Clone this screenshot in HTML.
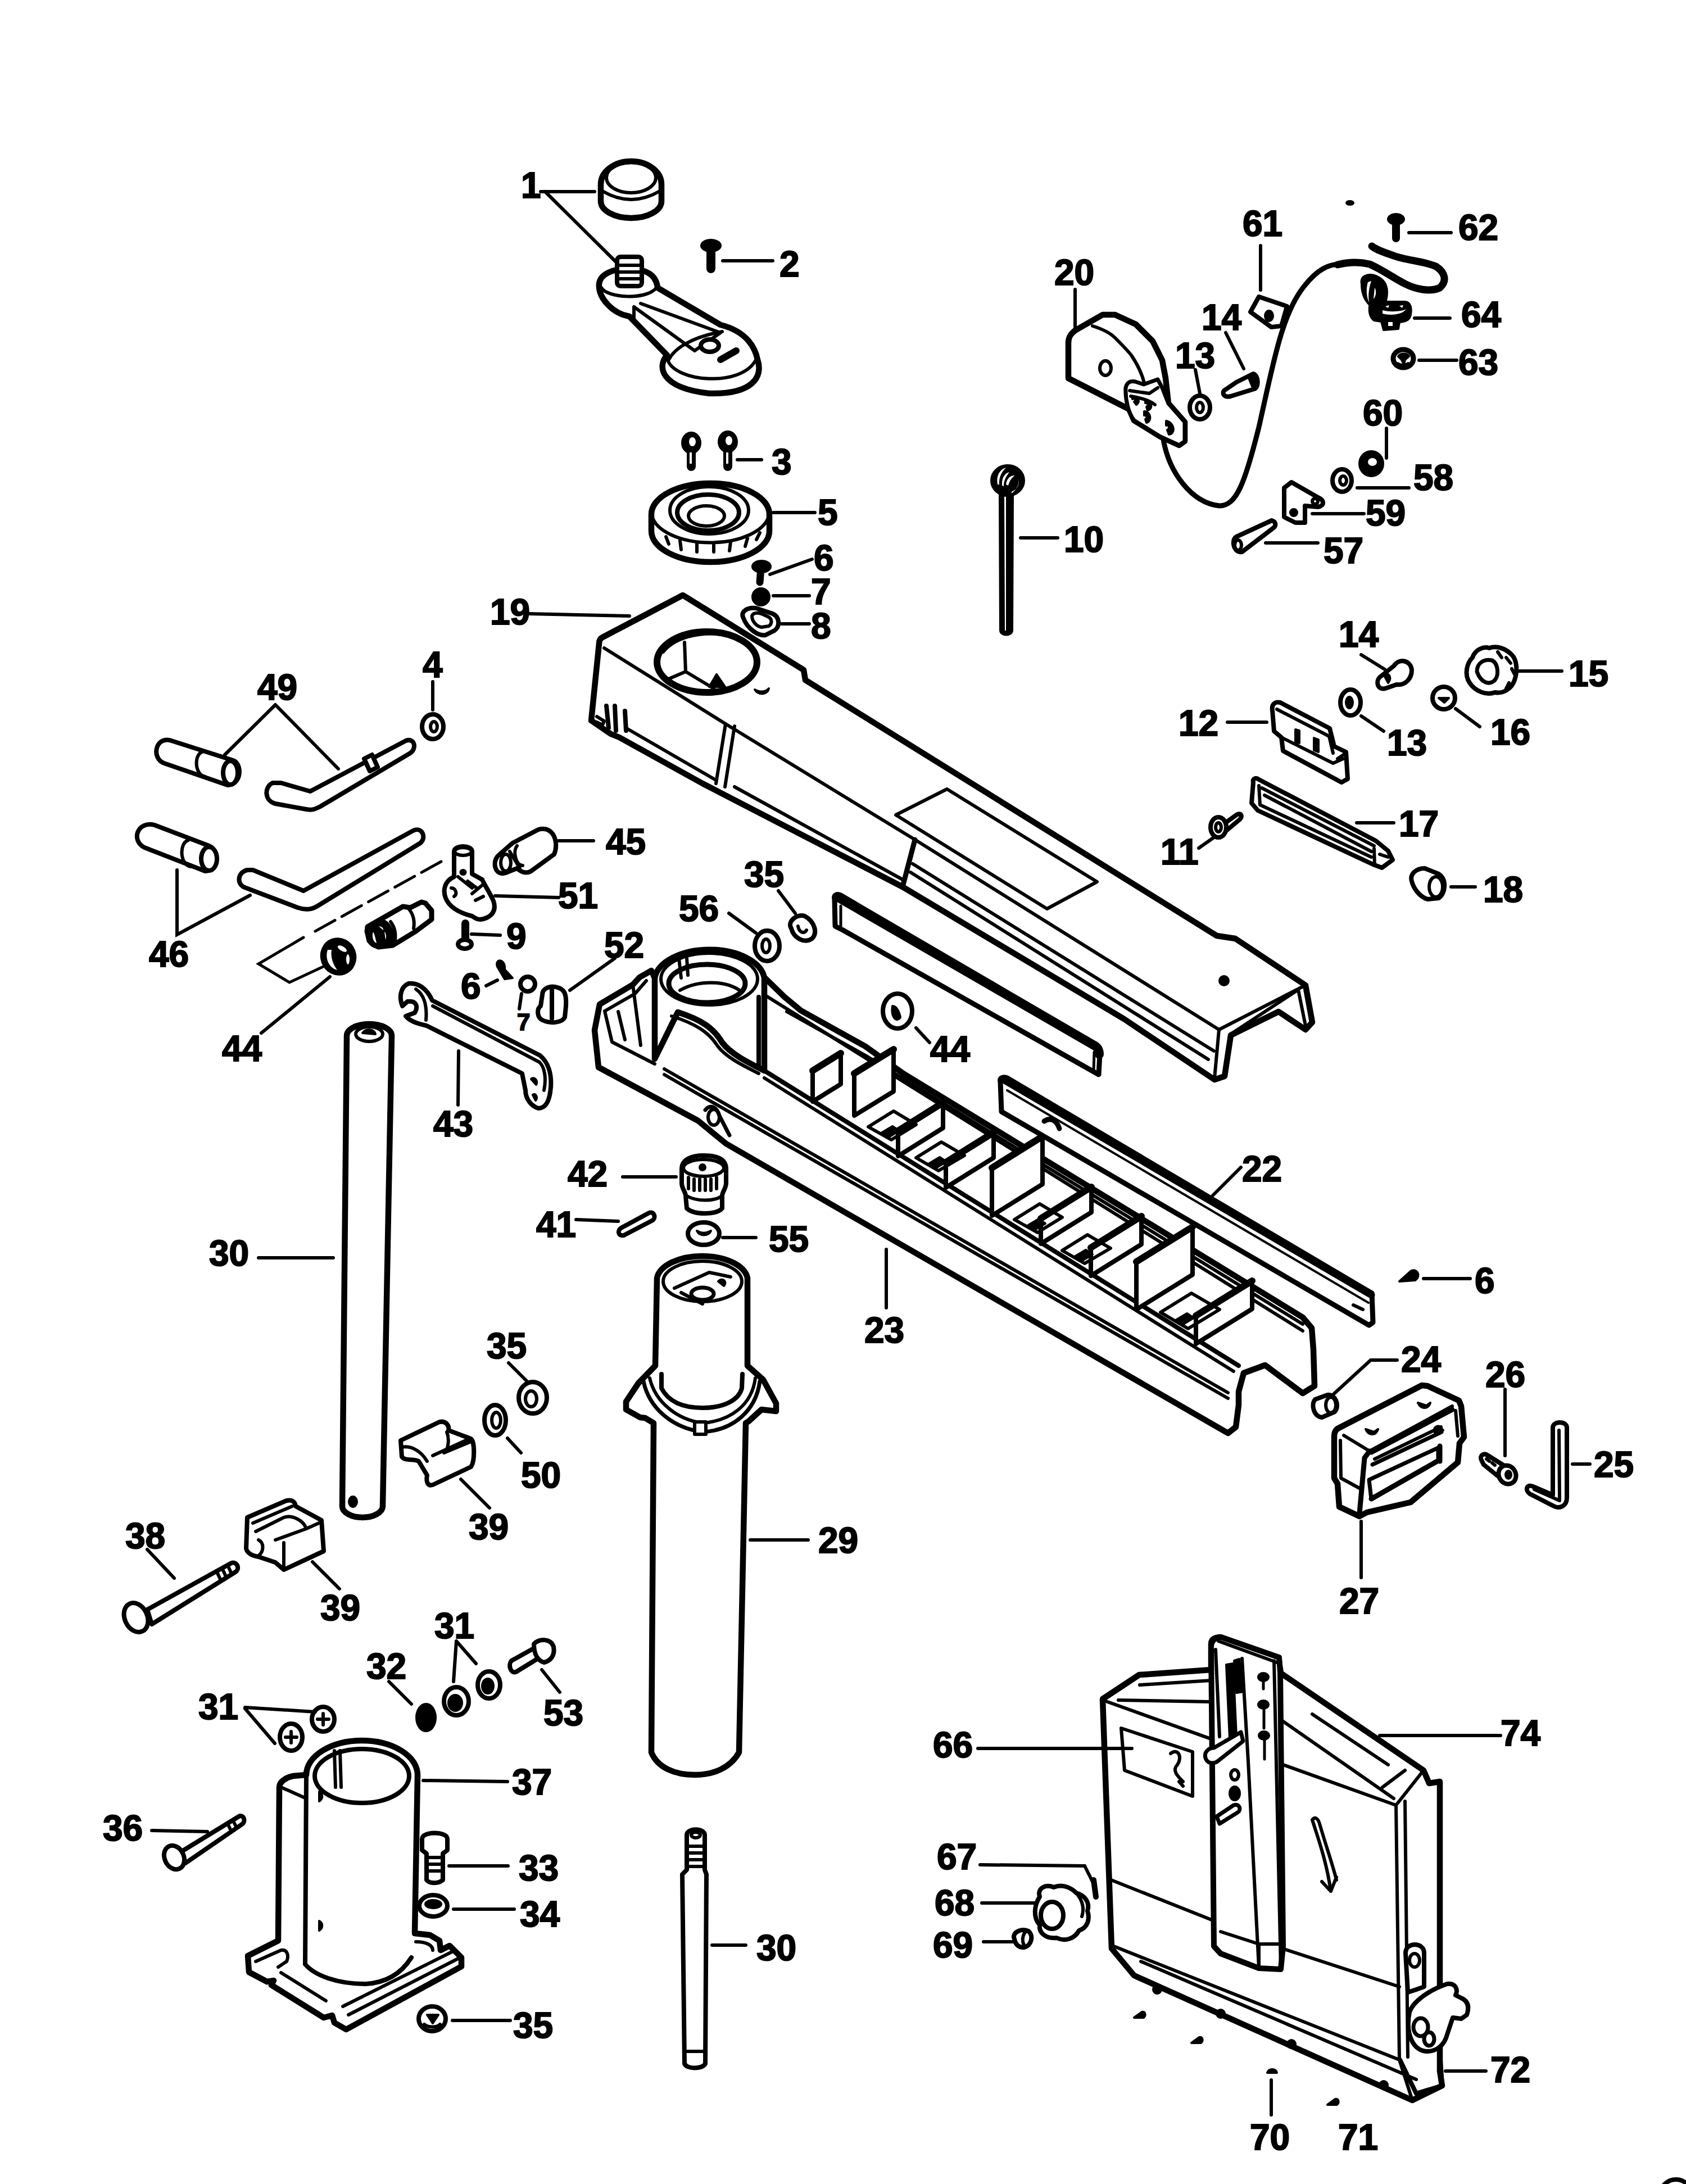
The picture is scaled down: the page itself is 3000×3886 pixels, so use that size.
<!DOCTYPE html>
<html><head><meta charset="utf-8"><style>
html,body{margin:0;padding:0;background:#fff;overflow:hidden;width:3000px;height:3886px;}
svg{display:block;}
text{font-family:"Liberation Sans",sans-serif;font-weight:bold;font-size:64px;fill:#000;stroke:#000;stroke-width:2px;}
.o{fill:#fff;stroke:#000;stroke-width:8;stroke-linejoin:round;stroke-linecap:round;}
.n{fill:none;stroke:#000;stroke-width:8;stroke-linejoin:round;stroke-linecap:round;}
.t{fill:none;stroke:#000;stroke-width:6;stroke-linejoin:round;stroke-linecap:round;}
.l{fill:none;stroke:#000;stroke-width:6;stroke-linecap:round;}
.f{fill:#000;stroke:#000;stroke-width:4;stroke-linejoin:round;}
</style></head><body>
<svg width="3000" height="3886" viewBox="0 0 3000 3886">

<!-- part 1 cap -->
<path class="o" style="stroke-width:10.5" d="M1069,328 A54,41 0 0 1 1177,328 L1177,358 A54,30 0 0 1 1069,358 Z"/>
<ellipse class="t" cx="1123" cy="316" rx="44" ry="27"/>
<path class="t" d="M1072,340 Q1123,370 1174,340"/>
<path class="l" d="M962,341 L1058,341 M970,341 L1096,466"/>
<!-- crank -->
<path class="o" style="stroke-width:10.5" d="M1066,505 C1064,530 1090,558 1120,563 L1187,632 C1170,650 1172,690 1262,700 C1340,702 1358,670 1348,640 C1344,620 1330,590 1282,578 L1170,512 C1168,490 1150,478 1118,478 C1090,478 1068,488 1066,505 Z"/>
<path class="t" d="M1070,512 C1080,530 1150,535 1168,512"/>
<path class="t" d="M1128,548 L1128,570 M1128,546 L1236,624 M1140,540 L1282,592 L1236,624"/>
<path class="t" d="M1190,640 C1200,620 1230,600 1285,590 M1188,640 C1200,680 1320,690 1345,640"/>
<rect class="o" x="1098" y="457" width="44" height="52" rx="6"/>
<path class="t" d="M1100,472 H1140 M1100,484 H1140 M1100,496 H1140"/>
<ellipse class="o" cx="1263" cy="615" rx="16" ry="11"/>
<path class="n" d="M1282,640 L1310,624" style="stroke-width:12"/>
<!-- screw 2 -->
<ellipse class="f" cx="1265" cy="437" rx="17" ry="10"/>
<path class="n" d="M1265,440 L1265,478" style="stroke-width:16"/>
<path class="l" d="M1286,464 L1375,464"/>
<!-- screws 3 -->
<ellipse class="f" cx="1230" cy="788" rx="16" ry="18"/>
<path class="n" d="M1230,795 L1230,830" style="stroke-width:16"/>
<ellipse class="f" cx="1295" cy="786" rx="16" ry="18"/>
<path class="n" d="M1295,795 L1295,830" style="stroke-width:16"/>
<path class="l" d="M1312,818 L1355,818"/><ellipse cx="1232" cy="786" rx="6" ry="8" fill="#fff"/><ellipse cx="1297" cy="784" rx="6" ry="8" fill="#fff"/><path d="M1229,805 L1229,825 M1294,805 L1294,825" stroke="#fff" stroke-width="4"/>
<!-- ring 5 -->
<path class="o" style="stroke-width:10.5" d="M1159,915 A105,55 0 0 1 1369,915 L1369,945 A105,55 0 0 1 1159,945 Z"/>
<path class="t" d="M1160,918 A105,55 0 0 0 1368,918"/>
<ellipse class="t" cx="1262" cy="908" rx="70" ry="42"/>
<ellipse class="n" cx="1260" cy="912" rx="55" ry="32"/>
<ellipse class="t" cx="1257" cy="918" rx="32" ry="18"/>
<path class="t" d="M1185,955 L1190,968 M1210,962 L1212,978 M1240,966 L1240,982 M1270,966 L1270,982 M1300,964 L1298,980 M1330,958 L1326,972 M1352,948 L1346,960"/>
<path class="l" d="M1376,912 L1450,912"/>
<!-- screw 6 -->
<ellipse class="f" cx="1355" cy="1008" rx="16" ry="10"/>
<path class="n" d="M1354,1010 L1352,1036" style="stroke-width:13"/>
<path class="l" d="M1370,1022 L1445,995"/>
<!-- ball 7 -->
<circle class="f" cx="1354" cy="1062" r="15"/>
<path class="l" d="M1376,1060 L1440,1060"/>


<!-- 20 tape reel -->
<path class="o" style="stroke-width:10.5" d="M1901,673 L1901,610 C1901,600 1905,594 1913,588 L1962,560 L1984,560 L2021,577 L2051,607 L2068,641 L2074,673 L2079,718 L2108,751 L2108,785 L2098,792 L2065,777 L2018,748 L2009,728 Z"/>
<path class="t" d="M1944,580 C1960,585 1975,592 1984,601 C1995,612 2005,622 2013,632 C2025,650 2032,665 2036,681"/>
<path class="o" style="stroke-width:7" d="M2003,690 C2005,680 2012,677 2020,679 L2035,684 L2060,675 L2068,690 L2079,718 L2108,751 L2108,785 L2098,792 L2065,777 L2018,748 C2008,735 2002,712 2003,690 Z"/>
<path class="t" d="M2010,695 L2045,700 L2060,690 M2012,705 C2030,708 2045,712 2055,720"/>
<ellipse class="t" cx="1967" cy="655" rx="10" ry="13"/>
<path class="f" d="M2015,705 C2025,705 2030,715 2022,720 L2018,715 C2022,712 2020,708 2015,710 Z"/>
<path class="f" d="M2038,712 C2050,712 2052,728 2042,730 L2040,724 C2044,722 2043,716 2038,717 Z"/>
<path class="f" d="M2036,732 C2048,732 2050,750 2040,752 L2038,746 C2042,744 2041,738 2036,739 Z"/>
<path class="f" d="M2075,749 C2090,752 2092,772 2080,773 L2077,765 C2082,762 2081,756 2075,757 Z"/>
<path class="l" d="M1913,515 L1913,582"/>
<!-- cable -->
<path class="n" d="M2070,782 C2080,840 2120,895 2170,900 C2200,900 2215,860 2240,760 C2265,650 2280,560 2320,510 C2345,478 2365,470 2385,470" style="stroke-width:9"/>
<path class="n" d="M2380,471 C2400,466 2420,466 2437,470 C2460,480 2480,495 2500,505 C2520,515 2545,520 2562,512 C2575,500 2572,485 2555,474 C2535,465 2500,463 2480,455 C2465,450 2450,445 2441,438" style="stroke-width:13"/>
<path class="t" d="M2295,560 C2310,520 2330,490 2360,475" style="stroke-width:3"/>
<!-- 61 clip -->
<path class="o" d="M2225,555 L2240,528 L2290,545 L2280,580 L2262,582 Z"/>
<ellipse class="f" cx="2258" cy="562" rx="7" ry="9"/>
<path class="l" d="M2243,437 L2243,516"/>
<!-- 14 top -->
<path class="o" d="M2178,695 L2200,680 L2230,665 C2240,668 2240,690 2232,692 L2190,705 C2178,708 2174,700 2178,695 Z"/>
<path class="f" d="M2220,668 C2238,660 2240,688 2230,692 Z"/>
<path class="l" d="M2181,592 L2213,656"/>
<!-- 13 top -->
<ellipse class="o" cx="2135" cy="725" rx="18" ry="21"/>
<ellipse class="t" cx="2135" cy="725" rx="6" ry="9"/>
<path class="l" d="M2127,658 L2135,700"/>
<!-- 10 spring rod -->
<path class="f" d="M1779,875 L1802,880 L1801,1122 C1800,1132 1781,1132 1780,1122 Z"/>
<path d="M1787,880 L1790,880 L1790,1122 L1788,1122 Z" fill="#fff"/>
<ellipse class="f" cx="1793" cy="855" rx="29" ry="27"/>
<path d="M1775,862 C1772,845 1780,835 1790,832 C1782,840 1777,850 1778,862 Z M1783,864 C1782,850 1788,842 1796,840 C1790,848 1786,855 1786,865 Z M1800,875 C1812,870 1815,860 1812,848 C1815,860 1810,870 1800,878 Z M1790,862 C1792,850 1798,846 1806,846 C1800,850 1796,856 1794,864 Z" fill="#fff"/>
<path class="l" d="M1816,957 L1882,957"/>
<!-- 57 bolt -->
<path class="o" d="M2200,955 C2190,960 2195,985 2210,982 L2265,940 C2272,935 2270,928 2263,926 Z"/>
<ellipse class="t" cx="2203" cy="970" rx="6" ry="9"/>
<path class="l" d="M2252,966 L2345,966"/>
<!-- 59 bracket -->
<path class="o" d="M2285,868 L2298,858 L2345,885 C2357,890 2357,900 2345,902 L2322,900 L2322,930 L2305,930 L2285,920 Z"/>
<circle class="t" cx="2340" cy="892" r="5"/>
<circle class="f" cx="2302" cy="912" r="6"/>
<path class="l" d="M2335,914 L2427,914"/>
<!-- 58 washer -->
<ellipse class="o" cx="2388" cy="855" rx="17" ry="20"/>
<ellipse class="t" cx="2390" cy="855" rx="6" ry="8"/>
<path class="l" d="M2415,868 L2507,868"/>
<!-- 60 nut -->
<ellipse class="f" cx="2440" cy="825" rx="21" ry="22"/>
<ellipse cx="2442" cy="822" rx="8" ry="7" fill="#fff"/>
<path class="l" d="M2467,762 L2467,815"/>
<!-- 62 screw -->
<ellipse class="f" cx="2484" cy="390" rx="14" ry="9"/>
<path class="n" d="M2484,392 L2484,424" style="stroke-width:14"/>
<path class="l" d="M2507,414 L2582,414"/>
<!-- 64 clamp -->
<path class="f" d="M2423,505 C2420,492 2432,487 2445,490 C2460,495 2468,505 2468,520 C2468,532 2465,540 2460,545 L2440,545 C2428,535 2423,520 2423,505 Z"/>
<path d="M2434,502 C2430,515 2432,530 2436,538 C2434,525 2436,512 2440,500 Z M2446,512 C2450,518 2448,528 2444,532 Z" fill="#fff"/>
<path class="f" d="M2437,545 C2437,538 2445,537 2455,537 L2500,537 C2510,538 2512,548 2510,560 C2508,570 2500,572 2490,573 L2488,585 L2462,587 L2458,572 L2445,570 C2438,565 2436,555 2437,545 Z"/>
<path d="M2460,552 C2475,556 2495,554 2502,550 C2495,560 2475,562 2460,558 Z M2465,545 L2472,543 L2470,548 Z M2490,544 L2497,543 L2495,548 Z M2470,573 L2478,573 L2478,580 L2470,580 Z" fill="#fff"/>
<path class="l" d="M2517,566 L2580,566"/>
<!-- 63 nut -->
<ellipse class="o" cx="2497" cy="638" rx="18" ry="16" style="stroke-width:9"/>
<path class="f" d="M2488,634 C2492,628 2504,628 2507,634 L2500,640 L2498,648 L2494,640 Z"/>
<path class="t" d="M2487,646 C2492,650 2500,650 2506,646" style="stroke-width:4"/>
<path class="l" d="M2525,641 L2592,641"/>
<ellipse class="f" cx="2402" cy="361" rx="6" ry="3"/>


<!-- 49 grip -->
<path class="o" d="M302,1317 L415,1353 C430,1358 432,1395 405,1397 L292,1358 C270,1350 275,1312 302,1317 Z"/>
<path class="t" d="M362,1337 C345,1340 345,1378 365,1382"/>
<ellipse class="o" cx="410" cy="1375" rx="13" ry="21"/>
<path class="l" d="M490,1254 L400,1343 M490,1254 L602,1368"/>
<!-- 49 rod -->
<path class="o" d="M485,1393 C470,1400 470,1425 490,1430 L545,1440 C555,1442 560,1440 570,1435 L730,1340 C742,1332 738,1312 722,1318 L552,1408 L500,1393 Z"/>
<path class="o" d="M648,1350 L662,1343 L672,1365 L658,1372 Z" style="stroke-width:8"/>
<!-- 4 washer -->
<ellipse class="o" cx="770" cy="1293" rx="19" ry="22"/>
<ellipse class="t" cx="772" cy="1293" rx="6" ry="9"/>
<path class="l" d="M770,1213 L770,1263"/>
<!-- 46 grip -->
<path class="o" d="M275,1468 L372,1505 C390,1512 390,1550 365,1550 L257,1508 C232,1495 245,1460 275,1468 Z"/>
<path class="t" d="M335,1495 C318,1500 320,1540 340,1542"/>
<ellipse class="o" cx="372" cy="1528" rx="14" ry="21"/>
<!-- 46 rod -->
<path class="o" d="M440,1548 C422,1552 420,1575 438,1580 L530,1615 C545,1620 555,1618 565,1612 L748,1500 C760,1490 750,1470 735,1478 L540,1585 L450,1548 Z"/>
<path class="l" d="M315,1548 L315,1663 L445,1593"/>
<!-- dashed + shape -->
<path class="l" d="M785,1533 L550,1663" stroke-dasharray="40,14" style="stroke-width:5"/>
<path class="l" d="M540,1668 L460,1715 L515,1748 L575,1720" style="stroke-width:5"/>
<!-- 44 nut left -->
<ellipse class="f" cx="602" cy="1702" rx="30" ry="32" transform="rotate(-20 602 1702)"/>
<path d="M583,1690 C578,1705 585,1722 600,1726 C592,1715 588,1702 590,1690 Z" fill="#fff"/>
<ellipse cx="609" cy="1688" rx="9" ry="4" transform="rotate(30 609 1688)" fill="#fff"/>
<ellipse cx="619" cy="1707" rx="3" ry="9" fill="#fff"/>
<path class="l" d="M587,1738 L465,1838"/>
<!-- pin under 45 -->
<path class="o" style="stroke-width:9" d="M654,1649 L717,1613 L730,1615 L750,1605 L757,1607 L768,1620 L768,1636 L740,1657 L699,1682 L673,1685 L657,1674 L653,1657 Z"/>
<path class="t" d="M728,1618 C736,1628 738,1640 736,1652 M695,1640 C703,1650 705,1665 702,1680"/>
<path class="f" d="M657,1652 C648,1665 655,1684 672,1686 C690,1686 702,1678 700,1665 C698,1650 690,1640 680,1637 Z"/>
<path d="M664,1658 C661,1666 664,1676 670,1678 C668,1670 667,1663 664,1658 Z M674,1648 C679,1648 683,1652 682,1655 Z M684,1658 C687,1660 688,1668 686,1672 Z" fill="#fff"/>
<!-- 45 -->
<path class="o" d="M912,1500 L958,1476 C985,1468 995,1500 986,1520 L945,1550 C935,1556 925,1550 920,1545 L900,1553 C880,1560 875,1532 887,1522 Z"/>
<path class="t" d="M920,1505 C912,1515 918,1540 930,1540 M907,1515 L925,1545"/>
<ellipse class="t" cx="900" cy="1535" rx="9" ry="15"/>
<path class="l" d="M994,1496 L1056,1496"/>
<!-- 51 clamp -->
<path class="o" d="M808,1560 L808,1515 C808,1503 840,1503 840,1515 L840,1555 L858,1565 C862,1575 870,1585 878,1603 C882,1615 880,1625 868,1632 C855,1638 850,1637 840,1630 C820,1625 800,1615 793,1598 C788,1585 790,1568 808,1560 Z"/>
<ellipse class="t" cx="824" cy="1515" rx="15" ry="7"/>
<path class="t" d="M815,1560 L840,1580 M832,1568 L848,1580 M840,1590 L858,1575 M846,1602 L860,1595 M803,1580 C810,1580 815,1590 808,1595"/>
<path class="f" d="M824,1548 C818,1548 818,1556 824,1556 C830,1556 830,1548 824,1548 Z"/>
<path class="l" d="M881,1594 L994,1597"/>
<!-- 9 screw -->
<path class="n" d="M828,1643 L828,1675" style="stroke-width:14"/>
<ellipse class="o" cx="827" cy="1680" rx="12" ry="8"/>
<path class="l" d="M839,1662 L890,1664"/>
<!-- 6 small screw -->
<path class="f" d="M885,1720 C880,1705 900,1705 898,1725 L912,1740 L898,1742 Z"/>
<path class="l" d="M865,1754 L885,1744"/>
<!-- 7 pin -->
<circle class="o" cx="939" cy="1751" r="13"/>
<path class="l" d="M928,1768 L924,1795"/>
<!-- 52 -->
<path class="o" d="M965,1770 C965,1758 980,1752 995,1758 C1005,1762 1008,1770 1007,1790 L1005,1810 C1000,1820 980,1822 965,1815 C955,1810 955,1795 962,1790 Z"/>
<path class="n" d="M982,1760 L982,1812" style="stroke-width:8"/>
<path class="l" d="M1014,1762 L1094,1705"/>


<!-- ===== ARM 19 ===== -->
<path class="o" style="stroke-width:10.5" d="M1215,1059 L1430,1192 L1433,1210 L2165,1665 L2198,1670 L2323,1753 L2335,1819 L2323,1832 L2275,1800 L2190,1842 L2179,1915 L2161,1921 L2000,1813 L1750,1664 L1606,1578 L1250,1394 L1102,1312 L1087,1306 L1052,1282 L1066,1145 C1066,1140 1068,1136 1072,1134 Z"/>
<path class="t" d="M1075,1153 L1291,1288 L1628,1494 L2169,1832 L2323,1753"/>
<path class="t" d="M2310,1761 L2190,1840 M2310,1761 L2323,1825 M2169,1832 L2161,1919"/>
<path class="n" d="M1291,1288 L1274,1394 M1307,1292 L1290,1400" style="stroke-width:6"/>
<path class="n" d="M1628,1494 L1606,1578" style="stroke-width:9"/>
<path class="t" d="M1115,1296 L1272,1387 M1624,1537 L2160,1870 M1620,1552 L2150,1885 M1307,1400 L1606,1565"/>
<path class="n" d="M1079,1256 L1083,1295 M1094,1256 L1096,1300 M1112,1265 L1114,1300" style="stroke-width:8"/><path class="t" d="M1062,1275 L1075,1283 L1072,1290 L1062,1285"/>
<!-- hole on arm -->
<ellipse class="n" cx="1258" cy="1178" rx="89" ry="54" style="stroke-width:12"/><path class="t" d="M1180,1160 C1200,1135 1240,1125 1280,1128 C1310,1132 1330,1145 1340,1160"/>
<path class="t" d="M1218,1143 L1220,1195 L1270,1225 M1220,1195 L1185,1210"/>
<path class="f" d="M1275,1200 L1290,1222 L1262,1222 Z"/>
<path class="f" d="M1343,1227 C1350,1238 1366,1236 1368,1225 C1362,1232 1350,1232 1343,1227 Z"/>
<!-- label plate -->
<path class="t" d="M1594,1450 L1685,1404 L1952,1569 L1863,1617 Z"/>
<circle class="f" cx="2178" cy="1745" r="8"/>
<!-- ===== middle strip ===== -->
<path class="o" style="stroke-width:9" d="M1485,1600 C1483,1592 1490,1590 1496,1593 L1950,1858 C1956,1862 1957,1868 1957,1875 L1955,1912 L1500,1655 L1486,1648 Z"/>
<path class="n" d="M1490,1596 L1950,1862 C1955,1866 1956,1870 1956,1876" style="stroke-width:16"/>
<path class="t" d="M1496,1612 L1496,1650 M1947,1872 L1946,1905" style="stroke-width:5"/>
<!-- ===== BASE 23 ===== -->
<path class="o" style="stroke-width:10.5" d="M1067,1787 L1126,1752 L1138,1739 L1159,1727 L1165,1740 L1360,1739 L1396,1774 L1425,1798 L1540,1862 L1607,1910 L2050,2180 L2318,2344 L2334,2363 L2337,2401 L2339,2466 L2318,2479 L2251,2429 L2213,2443 L2204,2476 L2204,2500 L2199,2539 L2185,2550 L1292,2035 L1242,1994 L1065,1899 L1058,1833 Z"/>
<path class="t" d="M1182,1902 L2185,2478 M1182,1912 L2185,2488"/>
<path class="n" d="M1360,1905 L2204,2430" style="stroke-width:8"/>
<path class="t" d="M1360,1918 L2195,2440"/>
<path class="n" d="M1400,1800 L1540,1878 L2318,2356" style="stroke-width:6"/>
<path class="t" d="M1360,1770 L2318,2368"/>
<path class="t" d="M1076,1799 L1089,1854 L1165,1893 M1076,1799 L1130,1768 L1150,1745 M1100,1800 L1112,1850 M1126,1752 L1140,1860"/>
<path class="l" d="M2158,2127 L2208,2077 M1577,2223 L1577,2327"/>
<!-- column housing -->
<path class="o" style="stroke-width:10.5" d="M1165,1740 A98,56 0 0 1 1360,1740 L1360,1905 C1330,1890 1300,1875 1285,1855 C1270,1830 1250,1815 1206,1801 L1165,1884 Z"/>
<path class="n" d="M1165,1740 L1165,1884 M1350,1774 L1350,1896" style="stroke-width:8"/>
<path class="n" d="M1206,1801 C1250,1815 1270,1830 1285,1855 C1300,1875 1330,1890 1360,1905" style="stroke-width:9"/>
<path class="t" d="M1195,1808 C1240,1822 1262,1838 1276,1860 C1290,1880 1320,1895 1350,1910"/>
<ellipse class="n" cx="1262" cy="1742" rx="86" ry="46" style="stroke-width:6"/>
<ellipse class="n" cx="1258" cy="1750" rx="68" ry="34" style="stroke-width:9"/>
<path class="t" d="M1208,1705 L1212,1740 M1222,1705 L1224,1735 M1210,1762 C1240,1745 1290,1742 1320,1765"/>
<path class="n" d="M1255,1975 C1262,1965 1275,1968 1280,1985 L1298,2020" style="stroke-width:7"/>
<ellipse class="t" cx="1270" cy="1988" rx="10" ry="14"/>
<!-- ribs -->
<path class="o" style="stroke-width:8" d="M1446,1960 L1446,1905 L1496,1874 L1496,1929 Z"/><path class="n" style="stroke-width:12" d="M1446,1905 L1496,1874"/>
<path class="o" style="stroke-width:8" d="M1520,1985 L1520,1910 L1590,1867 L1590,1942 Z"/><path class="n" style="stroke-width:12" d="M1520,1910 L1590,1867"/>
<path class="o" style="stroke-width:8" d="M1598,2057 L1598,2012 L1678,1962 L1678,2007 Z"/><path class="n" style="stroke-width:12" d="M1598,2012 L1678,1962"/>
<path class="o" style="stroke-width:8" d="M1683,2113 L1683,2068 L1768,2015 L1768,2060 Z"/><path class="n" style="stroke-width:12" d="M1683,2068 L1768,2015"/>
<path class="o" style="stroke-width:8" d="M1765,2163 L1765,2078 L1855,2022 L1855,2107 Z"/><path class="n" style="stroke-width:12" d="M1765,2078 L1855,2022"/>
<path class="o" style="stroke-width:8" d="M1852,2213 L1852,2168 L1942,2112 L1942,2157 Z"/><path class="n" style="stroke-width:12" d="M1852,2168 L1942,2112"/>
<path class="o" style="stroke-width:8" d="M1941,2270 L1941,2220 L2031,2164 L2031,2214 Z"/><path class="n" style="stroke-width:12" d="M1941,2220 L2031,2164"/>
<path class="o" style="stroke-width:8" d="M2022,2330 L2022,2245 L2122,2183 L2122,2268 Z"/><path class="n" style="stroke-width:12" d="M2022,2245 L2122,2183"/>
<path class="o" style="stroke-width:8" d="M2128,2391 L2128,2341 L2228,2279 L2228,2329 Z"/><path class="n" style="stroke-width:12" d="M2128,2341 L2228,2279"/>
<path class="t" d="M1545,2005 L1590,1977 L1630,2001 L1586,2028 Z"/><path class="f" d="M1568,2016 l20,-12 l12,8 l-20,12 Z"/>
<path class="t" d="M1630,2060 L1675,2032 L1716,2056 L1670,2083 Z"/><path class="f" d="M1652,2071 l20,-12 l12,8 l-20,12 Z"/>
<path class="t" d="M1805,2170 L1850,2142 L1890,2166 L1846,2193 Z"/><path class="f" d="M1828,2181 l20,-12 l12,8 l-20,12 Z"/>
<path class="t" d="M1890,2225 L1935,2197 L1976,2221 L1930,2248 Z"/><path class="f" d="M1912,2236 l20,-12 l12,8 l-20,12 Z"/>
<path class="t" d="M2065,2335 L2120,2301 L2170,2330 L2114,2364 Z"/><path class="f" d="M2092,2349 l20,-12 l12,8 l-20,12 Z"/>
<!-- ===== strip 22 ===== -->
<path class="o" style="stroke-width:9" d="M1780,1925 C1778,1918 1785,1915 1792,1918 L2441,2301 L2443,2353 L2436,2358 L1782,1978 Z"/>
<path class="n" d="M1784,1920 L2440,2304" style="stroke-width:13"/>
<path class="t" d="M1792,1940 L2435,2318" style="stroke-width:4"/>
<path class="t" d="M2408,2322 L2425,2330"/>
<path class="n" d="M1858,1995 C1868,1988 1880,1992 1885,2008" style="stroke-width:9"/>
<!-- 24 -->
<path class="o" d="M2340,2490 C2332,2500 2338,2520 2352,2522 L2375,2512 C2385,2500 2375,2480 2362,2482 Z"/>
<ellipse class="t" cx="2368" cy="2500" rx="9" ry="14"/>
<path class="l" d="M2367,2486 L2439,2420 L2486,2420"/>
<!-- 6 right -->
<path class="f" d="M2490,2280 L2510,2262 C2520,2255 2530,2270 2518,2278 Z"/>
<path class="l" d="M2533,2275 L2616,2275"/>
<!-- 27 end cap -->
<path class="o" style="stroke-width:10.5" d="M2374,2556 C2374,2550 2376,2545 2380,2542 L2530,2465 L2540,2466 L2596,2492 L2600,2502 L2605,2557 L2597,2568 L2594,2602 L2510,2673 L2432,2691 L2419,2698 L2383,2681 L2380,2640 L2374,2630 Z"/>
<path class="t" d="M2391,2554 L2437,2582 L2584,2502 M2385,2563 L2386,2630 L2419,2648 M2590,2510 L2594,2555"/>
<path class="n" style="stroke-width:9" d="M2437,2582 L2428,2594 L2419,2693 M2440,2584 L2584,2508"/>
<path class="t" d="M2446,2596 L2564,2539"/>
<path class="n" style="stroke-width:7" d="M2442,2606 L2565,2548"/>
<path class="o" style="stroke-width:7" d="M2436,2633 L2559,2576 L2559,2599 L2440,2667 Z"/>
<path class="n" style="stroke-width:9" d="M2440,2667 L2559,2599 M2562,2573 L2562,2600"/>
<path class="f" d="M2430,2543 C2435,2555 2448,2555 2452,2543 L2445,2548 Z M2523,2496 C2528,2508 2541,2508 2545,2496 L2538,2501 Z"/>
<path class="f" d="M2556,2552 C2548,2548 2552,2535 2562,2538 L2568,2545 L2560,2548 Z"/>
<path class="l" d="M2422,2707 L2422,2807"/>
<!-- 26 screw -->
<path class="o" d="M2636,2598 C2632,2590 2640,2584 2648,2590 L2683,2612 L2672,2632 L2640,2606 Z"/>
<path class="t" d="M2645,2596 L2650,2600 M2655,2603 L2660,2607"/>
<ellipse class="o" cx="2682" cy="2624" rx="15" ry="17" transform="rotate(-30 2682 2624)"/>
<ellipse class="f" cx="2684" cy="2624" rx="5" ry="7"/>
<path class="l" d="M2678,2472 L2678,2590"/>
<!-- 44 mid, 56, 35 -->
<ellipse class="o" cx="1597" cy="1799" rx="26" ry="31"/>
<path class="f" d="M1588,1790 C1585,1810 1595,1820 1602,1810 C1600,1800 1595,1790 1588,1790 Z"/>
<path class="l" d="M1630,1829 L1654,1855"/>
<ellipse class="o" cx="1365" cy="1683" rx="22" ry="27"/>
<ellipse class="t" cx="1363" cy="1683" rx="7" ry="12"/>
<path class="l" d="M1297,1625 L1345,1660"/>
<path class="o" d="M1408,1652 C1400,1640 1418,1625 1432,1630 C1450,1640 1455,1660 1445,1670 C1430,1680 1412,1668 1408,1652 Z"/>
<path class="t" d="M1420,1648 C1422,1660 1432,1662 1435,1655"/>
<path class="l" d="M1385,1585 L1415,1625"/>
<!-- 8 -->
<path class="o" d="M1322,1098 C1318,1088 1330,1080 1345,1082 L1375,1092 C1388,1098 1388,1115 1378,1122 L1362,1130 C1350,1132 1330,1120 1322,1098 Z"/>
<path class="t" d="M1338,1096 C1340,1090 1348,1090 1355,1092 L1368,1098 C1374,1102 1374,1110 1368,1114 L1355,1116 C1345,1114 1338,1105 1338,1096 Z"/>
<path class="l" d="M1386,1110 L1440,1110"/>
<!-- 19 leader -->
<path class="l" d="M940,1092 L1120,1096"/>


<!-- ===== rod 30 upper ===== -->
<path class="o" style="stroke-width:10.5" d="M617,1843 A40,21 0 0 1 697,1843 L681,2680 A36,20 0 0 1 609,2680 Z"/>
<ellipse class="n" cx="657" cy="1840" rx="24" ry="13" style="stroke-width:6"/>
<path class="f" d="M645,1838 C650,1830 665,1830 668,1840 Z"/>
<ellipse class="f" cx="628" cy="2672" rx="7" ry="9"/>
<path class="l" d="M460,2238 L593,2238"/>
<!-- ===== wrench 43 ===== -->
<path class="o" d="M727,1750 C745,1748 760,1760 769,1780 L961,1878 C975,1890 982,1910 980,1935 C978,1960 970,1972 958,1972 C945,1968 935,1955 935,1940 L929,1910 L759,1825 C745,1822 730,1818 722,1808 L738,1802 C745,1790 740,1780 725,1782 L716,1790 C710,1775 712,1756 727,1750 Z"/>
<path class="t" d="M740,1760 C755,1770 760,1790 758,1815 M770,1790 L960,1890 C970,1900 972,1920 968,1940"/>
<path class="f" d="M945,1920 C950,1915 958,1922 954,1930 Z M948,1948 C952,1944 958,1952 953,1958 Z"/>
<path class="l" d="M816,1870 L815,1966"/>
<!-- ===== 35 / 50 / 39 upper ===== -->
<ellipse class="o" cx="948" cy="2487" rx="25" ry="28"/>
<ellipse class="t" cx="945" cy="2489" rx="10" ry="14"/>
<path class="l" d="M905,2425 L937,2457"/>
<ellipse class="o" cx="881" cy="2527" rx="19" ry="27"/>
<ellipse class="t" cx="883" cy="2527" rx="8" ry="14"/>
<path class="l" d="M903,2559 L927,2585"/>
<path class="o" d="M713,2563 L782,2530 C792,2528 800,2535 798,2545 L838,2560 C845,2565 845,2600 838,2610 L770,2642 C760,2645 758,2635 760,2625 L745,2600 C735,2595 720,2600 715,2592 Z"/>
<path class="t" d="M715,2575 C730,2572 748,2580 760,2600 M795,2548 C800,2560 798,2580 790,2585 L838,2565 M770,2590 L835,2560"/>
<path class="l" d="M820,2632 L871,2683"/>
<!-- ===== 39 lower ===== -->
<path class="o" d="M440,2700 L510,2670 C520,2668 525,2672 526,2680 L572,2705 L576,2760 L505,2793 L490,2780 L460,2770 C450,2768 440,2765 438,2755 Z"/>
<path class="t" d="M450,2710 L520,2680 M455,2725 L505,2700 C520,2695 540,2705 545,2720 L572,2708 M490,2740 L545,2720 M505,2745 L505,2790 M460,2740 C470,2745 470,2760 460,2768"/>
<path class="l" d="M556,2779 L604,2827"/>
<!-- ===== 38 bolt ===== -->
<path class="o" d="M262,2864 L410,2782 C421,2776 428,2791 419,2797 L270,2890 Z"/>
<ellipse class="o" cx="242" cy="2878" rx="20" ry="27" transform="rotate(-25 242 2878)"/>
<path class="t" d="M385,2795 L392,2810 M395,2790 L402,2805 M405,2785 L412,2800"/>
<path class="l" d="M262,2757 L310,2808"/>
<!-- ===== 31 / 32 / 53 ===== -->
<ellipse class="o" cx="812" cy="3027" rx="22" ry="25"/>
<ellipse class="f" cx="810" cy="3030" rx="12" ry="14"/>
<ellipse class="o" cx="870" cy="2998" rx="20" ry="24"/>
<ellipse class="f" cx="868" cy="3000" rx="10" ry="13"/>
<path class="l" d="M812,2920 L807,2992 M812,2920 L847,2960"/>
<ellipse class="f" cx="758" cy="3056" rx="17" ry="24"/>
<path class="l" d="M692,2992 L732,3032"/>
<path class="o" d="M910,2955 L955,2930 L962,2948 L918,2975 C908,2978 904,2962 910,2955 Z"/>
<path class="o" d="M950,2925 C960,2915 980,2915 985,2930 C988,2945 980,2955 968,2958 C958,2955 950,2945 950,2925 Z"/>
<path class="l" d="M964,2971 L996,3011"/>
<ellipse class="o" cx="575" cy="3059" rx="20" ry="22"/>
<path class="t" d="M565,3059 H585 M575,3049 V3069"/>
<ellipse class="o" cx="518" cy="3091" rx="20" ry="24"/>
<path class="t" d="M508,3091 H528 M518,3081 V3101"/>
<path class="l" d="M436,3038 L561,3046 M436,3040 L489,3102"/>
<!-- ===== 37 housing ===== -->
<path class="o" style="stroke-width:10.5" d="M441,3480 L495,3453 L497,3180 C497,3170 510,3162 522,3160 L545,3158 A99,61 0 0 1 743,3158 L738,3440 L765,3443 L782,3453 L784,3470 L800,3462 L821,3483 L821,3499 L616,3611 L595,3599 L591,3586 L576,3590 L483,3532 L487,3524 L475,3526 L443,3509 Z"/>
<path class="n" d="M545,3158 L543,3495 C560,3515 600,3530 650,3530 C690,3528 715,3510 732,3483" style="stroke-width:8"/>
<ellipse class="n" cx="644" cy="3160" rx="84" ry="48" style="stroke-width:8"/>
<path class="t" d="M595,3115 L597,3180 M605,3115 L607,3180 M500,3180 L545,3200"/>
<path class="f" d="M568,3188 C575,3192 575,3200 568,3205 Z M568,3418 C575,3422 575,3430 568,3435 Z"/>
<path class="t" d="M455,3490 L500,3470 C510,3468 515,3478 510,3490 L495,3500 M500,3510 L580,3560 M610,3570 L810,3470 M620,3585 L815,3485 M740,3455 C760,3455 770,3462 770,3470"/>
<path class="l" d="M753,3168 L903,3170"/>
<!-- 36 bolt -->
<path class="o" d="M322,3295 L425,3232 C432,3228 438,3238 432,3245 L330,3315 Z"/>
<ellipse class="o" cx="310" cy="3305" rx="17" ry="22" transform="rotate(-25 310 3305)"/>
<path class="t" d="M405,3245 L410,3255 M415,3240 L420,3250"/>
<path class="l" d="M270,3257 L369,3259"/>
<!-- 33 bolt -->
<path class="o" d="M751,3272 C751,3258 796,3258 796,3272 L796,3292 L788,3298 L788,3345 C780,3352 765,3352 759,3345 L759,3298 L751,3292 Z"/>
<path class="t" d="M762,3305 H786 M762,3317 H786 M762,3329 H786"/>
<path class="l" d="M799,3320 L904,3320"/>
<!-- 34 washer -->
<ellipse class="o" cx="771" cy="3391" rx="25" ry="19"/>
<ellipse class="f" cx="771" cy="3388" rx="14" ry="7"/>
<path class="l" d="M807,3397 L915,3397"/>
<!-- 35 bottom -->
<ellipse class="o" cx="769" cy="3592" rx="24" ry="22"/>
<path class="f" d="M760,3585 L780,3585 L770,3600 Z"/>
<path class="t" d="M755,3602 C762,3608 778,3608 783,3602"/>
<path class="l" d="M805,3595 L908,3595"/>
<!-- ===== column 29 ===== -->
<path class="o" style="stroke-width:10.5" d="M1169,2274 A81,44 0 0 1 1330,2274 L1330,2430 L1358,2455 L1381,2497 L1381,2511 L1355,2508 L1332,2529 L1327,2532 L1315,3118 C1300,3145 1270,3158 1237,3158 C1200,3158 1170,3145 1159,3118 L1163,2532 L1148,2523 L1139,2522 L1114,2508 L1114,2494 L1136,2461 L1166,2430 Z"/>
<ellipse class="n" cx="1250" cy="2280" rx="70" ry="36" style="stroke-width:6"/>
<path class="t" d="M1200,2292 L1262,2264 L1300,2272 M1212,2300 L1250,2320"/>
<ellipse class="o" cx="1250" cy="2302" rx="20" ry="11" style="stroke-width:7"/>
<path class="f" d="M1278,2280 C1285,2272 1295,2280 1288,2288 Z"/>
<path class="n" d="M1177,2445 L1177,2470 C1190,2495 1215,2505 1250,2505 C1290,2505 1315,2490 1320,2470 L1321,2445" style="stroke-width:8"/>
<path class="n" style="stroke-width:7" d="M1145,2458 C1155,2505 1195,2540 1250,2548 C1305,2545 1345,2510 1352,2458"/><path class="t" d="M1156,2452 C1166,2495 1205,2526 1250,2532 C1300,2528 1338,2500 1344,2452"/><path class="o" style="stroke-width:6" d="M1236,2530 L1256,2530 L1256,2552 L1236,2552 Z"/>

<path class="l" d="M1335,2740 L1438,2740"/>
<!-- 42 knob -->
<path class="o" d="M1213,2080 C1213,2062 1232,2056 1252,2056 C1275,2056 1292,2062 1292,2080 L1292,2105 C1292,2115 1285,2120 1285,2128 L1285,2150 C1275,2162 1235,2162 1222,2150 L1220,2128 C1220,2120 1213,2115 1213,2105 Z"/>
<ellipse class="t" cx="1252" cy="2078" rx="36" ry="15"/>
<path class="t" d="M1225,2095 V2115 M1235,2098 V2118 M1245,2098 V2118 M1255,2098 V2118 M1265,2098 V2118 M1275,2095 V2115 M1222,2128 C1240,2138 1270,2138 1285,2128"/>
<circle class="f" cx="1250" cy="2077" r="5"/>
<path class="l" d="M1108,2094 L1203,2094"/>
<!-- 41 pin -->
<path class="o" d="M1105,2185 L1155,2158 C1165,2155 1168,2168 1160,2172 L1110,2198 C1100,2200 1098,2190 1105,2185 Z"/>
<path class="l" d="M1025,2170 L1100,2173"/>
<!-- 55 washer -->
<ellipse class="o" cx="1252" cy="2195" rx="28" ry="20"/>
<path class="f" d="M1240,2190 C1245,2200 1260,2200 1265,2190 C1255,2195 1248,2195 1240,2190 Z"/>
<path class="l" d="M1286,2202 L1345,2202"/>
<!-- ===== rod 30 lower ===== -->
<path class="o" d="M1222,3265 C1222,3252 1254,3252 1254,3265 L1254,3327 L1257,3335 L1255,3672 C1250,3682 1222,3682 1218,3672 L1214,3335 L1222,3327 Z"/>
<path class="t" d="M1225,3285 H1251 M1225,3297 H1251 M1225,3309 H1251 M1225,3321 H1251 M1222,3650 H1255"/>
<ellipse class="t" cx="1238" cy="3265" rx="8" ry="5"/>
<path class="l" d="M1267,3461 L1327,3461"/>


<!-- ===== box 74 ===== -->
<path class="o" style="stroke-width:10.5" d="M1962,3023 L2027,2980 L2155,2971 L2155,2925 C2155,2915 2165,2912 2172,2915 L2275,2951 L2279,2977 L2533,3150 L2543,3173 L2562,3170 L2562,3555 L2562,3685 L2566,3711 L2513,3737 L2018,3515 L1978,3467 Z"/>
<path class="t" d="M1965,3026 L2484,3212 L2533,3150 M2484,3212 L2490,3665 M2500,3205 L2505,3660 M1990,3025 L2155,3028 M2279,3060 L2480,3200"/>
<path class="t" d="M1972,3343 L2161,3418 M2282,3467 L2490,3535 M1982,3463 L2490,3665 M2018,3515 L2513,3737 M2030,3490 L2520,3700 M2490,3665 L2513,3737"/>
<path class="t" d="M2028,2998 L2155,2990 M2335,3050 L2470,3140 M2460,3180 L2500,3150"/>
<!-- slide bar -->
<path class="o" style="stroke-width:10" d="M2155,2930 C2155,2918 2165,2912 2173,2913 L2276,2949 L2278,2976 L2283,3463 L2279,3504 L2240,3502 L2172,3476 L2160,3463 Z"/>
<path class="t" d="M2163,2935 L2170,3090 M2210,2951 L2221,3134 M2221,3134 L2240,3502 M2267,2955 L2279,3504 M2172,3437 L2240,3459 L2279,3459 M2240,3459 L2240,3502 M2168,2920 L2272,2958"/>
<path class="f" d="M2182,2962 L2194,2960 L2200,3090 L2188,3093 Z"/>
<path class="f" d="M2196,2955 L2205,2952 L2212,3010 L2200,3012 Z"/>
<ellipse class="f" cx="2248" cy="2984" rx="9" ry="7"/>
<ellipse class="f" cx="2248" cy="3033" rx="9" ry="7"/>
<ellipse class="f" cx="2249" cy="3088" rx="9" ry="7"/>
<path class="n" d="M2248,2990 L2248,3005 M2249,3040 L2249,3075 M2250,3095 L2250,3130" style="stroke-width:5"/>
<path class="o" style="stroke-width:7" d="M2145,3128 C2142,3118 2150,3110 2160,3110 L2208,3082 L2212,3098 L2165,3135 C2155,3140 2147,3135 2145,3128 Z"/>
<ellipse class="t" cx="2197" cy="3158" rx="7" ry="9"/>
<ellipse class="f" cx="2197" cy="3191" rx="9" ry="12"/>
<path class="o" style="stroke-width:7" d="M2165,3232 L2195,3212 C2205,3208 2210,3220 2202,3225 L2170,3245 Z"/>
<!-- label plate 66 -->
<path class="t" d="M1995,3075 L2122,3117 L2122,3196 L2001,3150 Z"/>
<path class="t" d="M2083,3120 C2095,3110 2105,3125 2095,3140 C2085,3150 2095,3160 2105,3170 M2098,3170 L2105,3178"/>
<!-- big arrow -->
<path class="t" d="M2335,3238 C2345,3270 2360,3310 2368,3365 L2378,3340 M2368,3365 L2352,3348 M2335,3238 C2340,3232 2345,3235 2348,3245 C2358,3280 2372,3320 2378,3345"/>
<!-- 72 knob parts -->
<path class="o" style="stroke-width:8" d="M2501,3475 C2501,3455 2534,3455 2534,3475 L2534,3535 L2520,3540 L2505,3545 Z"/>
<ellipse class="t" cx="2517" cy="3488" rx="9" ry="12"/>
<path class="o" style="stroke-width:8" d="M2508,3580 C2515,3560 2545,3540 2575,3530 C2590,3528 2595,3540 2590,3550 L2600,3555 C2612,3560 2615,3570 2610,3585 L2600,3592 L2585,3590 L2575,3620 C2570,3640 2555,3650 2540,3650 C2515,3650 2500,3620 2508,3580 Z"/>
<ellipse class="o" style="stroke-width:7" cx="2528" cy="3607" rx="13" ry="16"/>
<ellipse class="o" style="stroke-width:7" cx="2543" cy="3628" rx="9" ry="12"/>
<path class="n" style="stroke-width:8" d="M2491,3665 L2520,3725 L2566,3711 L2562,3650"/>
<!-- dots on rail -->
<circle class="f" cx="2059" cy="3540" r="7"/><circle class="f" cx="2172" cy="3583" r="7"/><circle class="f" cx="2298" cy="3637" r="7"/><circle class="f" cx="2462" cy="3710" r="7"/>
<!-- screws 70/71 etc -->
<path class="f" d="M2018,3590 L2032,3580 C2038,3578 2040,3588 2034,3590 Z"/>
<path class="f" d="M2120,3635 L2134,3625 C2140,3623 2142,3633 2136,3635 Z"/>
<path class="f" d="M2255,3688 C2258,3680 2270,3680 2272,3688 Z"/>
<path class="f" d="M2362,3745 L2376,3735 C2382,3733 2384,3743 2378,3745 Z"/>
<path class="l" d="M2262,3701 L2262,3763 M2572,3685 L2644,3685"/>
<!-- 66 leader, 74 leader -->
<path class="l" d="M1740,3111 L2014,3111 M2455,3088 L2670,3088"/>
<!-- 67 -->
<path class="l" d="M1744,3318 L1930,3320 L1946,3352"/>
<path class="n" d="M1946,3345 L1950,3375" style="stroke-width:10"/>
<!-- 68 knob -->
<path class="o" d="M1850,3375 C1845,3360 1860,3352 1875,3358 C1890,3352 1905,3358 1915,3368 C1930,3372 1940,3385 1935,3400 C1940,3415 1935,3430 1920,3435 C1912,3450 1895,3455 1880,3448 C1862,3450 1848,3440 1850,3425 C1838,3412 1840,3390 1850,3375 Z"/>
<ellipse class="o" cx="1872" cy="3408" rx="20" ry="24"/>
<path class="t" d="M1915,3368 C1925,3380 1930,3395 1925,3410"/>
<path class="l" d="M1747,3386 L1841,3386"/>
<!-- 69 -->
<path class="o" d="M1805,3450 C1800,3440 1815,3430 1830,3436 C1840,3445 1835,3462 1822,3465 C1812,3466 1806,3458 1805,3450 Z"/>
<path class="t" d="M1825,3437 C1818,3445 1818,3458 1825,3464"/>
<path class="l" d="M1750,3455 L1802,3455"/>
<!-- ===== right mid parts ===== -->
<!-- 14 mid -->
<path class="o" d="M2455,1205 L2480,1185 C2490,1170 2510,1175 2512,1192 C2512,1208 2500,1220 2485,1218 L2465,1225 C2450,1228 2448,1212 2455,1205 Z"/>
<path class="f" d="M2462,1200 C2470,1195 2478,1205 2470,1215 Z"/>
<path class="l" d="M2422,1165 L2464,1191"/>
<!-- 15 knob -->
<path class="o" d="M2620,1170 C2625,1155 2640,1150 2650,1153 C2665,1148 2680,1155 2690,1165 C2700,1175 2700,1195 2695,1210 C2690,1225 2675,1235 2660,1232 C2645,1238 2625,1230 2615,1215 C2605,1200 2610,1180 2620,1170 Z"/>
<path class="o" d="M2628,1195 C2628,1180 2640,1172 2655,1175 C2665,1180 2668,1200 2660,1210 C2650,1220 2635,1215 2628,1195 Z" style="stroke-width:7"/>
<path class="t" d="M2665,1160 L2672,1170 M2680,1170 L2688,1180 M2690,1190 L2695,1200 M2685,1215 L2680,1225"/>
<path class="l" d="M2699,1194 L2779,1194"/>
<!-- 13 mid -->
<ellipse class="o" cx="2403" cy="1250" rx="18" ry="23"/>
<ellipse class="f" cx="2401" cy="1250" rx="6" ry="10"/>
<path class="l" d="M2422,1274 L2462,1301"/>
<!-- 16 -->
<ellipse class="o" cx="2569" cy="1242" rx="20" ry="20"/>
<path class="f" d="M2560,1242 L2578,1242 L2570,1250 Z"/>
<path class="l" d="M2590,1261 L2633,1293"/>
<!-- 12 plate -->
<path class="o" d="M2264,1264 C2262,1252 2270,1248 2278,1250 L2366,1296 L2374,1328 L2395,1338 L2398,1386 L2387,1392 L2283,1336 L2280,1312 L2267,1301 Z"/>
<path class="t" d="M2272,1262 L2365,1310 L2372,1340 M2280,1312 L2372,1358 L2390,1350 M2395,1340 L2380,1350"/>
<path class="f" d="M2305,1298 L2312,1300 L2312,1322 L2305,1320 Z M2338,1313 L2346,1316 L2346,1338 L2338,1335 Z"/>
<path class="l" d="M2184,1285 L2254,1285"/>
<!-- 17 strip -->
<path class="o" d="M2230,1392 C2228,1385 2235,1383 2240,1387 L2448,1496 L2470,1514 L2478,1530 L2459,1544 L2443,1538 L2238,1442 L2227,1429 Z"/>
<path class="t" d="M2240,1398 L2242,1432 L2440,1525 M2245,1402 L2445,1505 M2250,1415 L2440,1515 M2445,1510 L2446,1540 M2455,1520 L2470,1525"/>
<path class="l" d="M2414,1464 L2480,1464"/>
<!-- 11 screw -->
<path class="o" d="M2175,1468 L2200,1450 C2208,1445 2212,1452 2206,1458 L2182,1478 Z"/>
<ellipse class="o" cx="2168" cy="1472" rx="14" ry="18"/>
<ellipse class="t" cx="2168" cy="1472" rx="5" ry="8"/>
<path class="l" d="M2133,1509 L2160,1490"/>
<!-- 18 bushing -->
<path class="o" d="M2512,1568 C2508,1555 2520,1545 2535,1545 L2560,1555 C2575,1565 2572,1590 2560,1598 L2540,1600 C2525,1595 2515,1580 2512,1568 Z"/>
<ellipse class="t" cx="2555" cy="1578" rx="12" ry="18"/>
<path class="l" d="M2582,1578 L2625,1578"/>
<!-- 25 hex key -->
<path class="o" d="M2763,2540 C2763,2528 2788,2528 2788,2540 L2788,2665 C2788,2680 2775,2685 2765,2680 L2722,2658 C2712,2650 2718,2640 2728,2645 L2763,2660 Z"/>
<path class="t" d="M2774,2545 L2775,2670 L2730,2650"/>
<path class="l" d="M2798,2605 L2829,2605"/>

<circle cx="2982" cy="3906" r="28" fill="none" stroke="#000" stroke-width="8"/>
<!-- labels -->
<text x="1324" y="1578">35</text>
<text x="1208" y="1639">56</text>

<text x="1660" y="3127">66</text>
<text x="2670" y="3106">74</text>
<text x="1667" y="3326">67</text>
<text x="1663" y="3408">68</text>
<text x="1660" y="3483">69</text>
<text x="2224" y="3825">70</text>
<text x="2381" y="3825">71</text>
<text x="2652" y="3705">72</text>
<text x="2382" y="1151">14</text>
<text x="2791" y="1221">15</text>
<text x="2097" y="1309">12</text>
<text x="2468" y="1344">13</text>
<text x="2652" y="1325">16</text>
<text x="2489" y="1488">17</text>
<text x="2065" y="1538">11</text>
<text x="2639" y="1605">18</text>
<text x="2643" y="2468">26</text>
<text x="2836" y="2628">25</text>
<text x="2383" y="2871">27</text>

<text x="372" y="2252">30</text>
<text x="771" y="2022">43</text>
<text x="866" y="2417">35</text>
<text x="927" y="2647">50</text>
<text x="834" y="2739">39</text>
<text x="223" y="2755">38</text>
<text x="570" y="2883">39</text>
<text x="773" y="2915">31</text>
<text x="652" y="2987">32</text>
<text x="967" y="3070">53</text>
<text x="353" y="3059">31</text>
<text x="911" y="3193">37</text>
<text x="183" y="3275">36</text>
<text x="923" y="3346">33</text>
<text x="925" y="3428">34</text>
<text x="913" y="3626">35</text>
<text x="1456" y="2763">29</text>
<text x="1010" y="2111">42</text>
<text x="1368" y="2227">55</text>
<text x="1346" y="3488">30</text>
<text x="954" y="2201">41</text>

<text x="1443" y="1136">8</text>
<text x="872" y="1111">19</text>
<text x="1655" y="1889">44</text>
<text x="2210" y="2102">22</text>
<text x="1538" y="2389">23</text>
<text x="2493" y="2441">24</text>
<text x="2624" y="2301">6</text>

<text x="458" y="1245">49</text>
<text x="752" y="1205">4</text>
<text x="265" y="1720">46</text>
<text x="395" y="1888">44</text>
<text x="901" y="1688">9</text>
<text x="993" y="1616">51</text>
<text x="1078" y="1520">45</text>
<text x="1075" y="1704">52</text>
<text x="820" y="1777">6</text>
<text x="920" y="1833" style="font-size:42px">7</text>

<text x="1876" y="507">20</text>
<text x="2211" y="420">61</text>
<text x="2138" y="587">14</text>
<text x="2091" y="655">13</text>
<text x="1893" y="982">10</text>
<text x="2355" y="1002">57</text>
<text x="2425" y="757">60</text>
<text x="2515" y="872">58</text>
<text x="2430" y="935">59</text>
<text x="2595" y="427">62</text>
<text x="2600" y="582">64</text>
<text x="2595" y="667">63</text>

<text x="927" y="352">1</text>
<text x="1387" y="492">2</text>
<text x="1373" y="844">3</text>
<text x="1455" y="934">5</text>
<text x="1448" y="1015">6</text>
<text x="1443" y="1075">7</text>
</svg>
</body></html>
